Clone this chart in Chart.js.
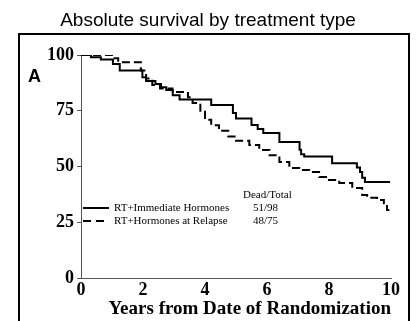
<!DOCTYPE html>
<html>
<head>
<meta charset="utf-8">
<script src="https://cdn.jsdelivr.net/npm/chart.js"></script>
<style>
  html, body { margin: 0; padding: 0; background: #fff; }
  #wrap { width: 416px; height: 321px; position: relative; }
</style>
</head>
<body>
<div id="wrap"><canvas id="survChart"></canvas></div>
<script>
// Kaplan-Meier steps: years from randomization and % alive after each step
const immediateYears = [0, 0.32, 0.64, 1.03, 1.25, 1.98, 2.1, 2.4, 2.58, 2.75, 2.96, 3.18, 4.2, 4.9, 5.0, 5.5, 5.7, 5.88, 6.4, 7.05, 7.1, 7.2, 8.1, 8.9, 9.0, 9.07, 9.16, 9.97];
const immediateSurv  = [100, 99, 98, 96, 93, 90, 88.3, 87, 85.5, 84.3, 82, 80, 77.6, 74, 71.5, 68.6, 66.8, 65, 61, 57.5, 55.5, 54.5, 51.5, 49.5, 47.5, 45, 43, 43];

const relapseYears = [0, 1.03, 1.2, 1.93, 2.1, 2.3, 2.55, 2.95, 3.45, 3.6, 3.85, 4.0, 4.2, 4.45, 4.75, 5.0, 5.43, 5.75, 6.08, 6.4, 6.72, 7.04, 7.36, 7.68, 8.0, 8.33, 8.75, 9.07, 9.23, 9.55, 9.77, 9.87, 9.95];
const relapseSurv  = [100, 98.5, 96.8, 93, 89.5, 86.5, 85, 83.4, 81, 78.5, 74.5, 71, 68.5, 66, 63.5, 61.5, 59.6, 57.4, 55, 52, 49.3, 48.4, 47.5, 45.3, 44, 42.6, 40.4, 37.2, 36, 35, 33.5, 30.5, 30.5];

const seriesNames = ['RT+Immediate Hormones', 'RT+Hormones at Relapse'];
const deadTotal = ['51/98', '48/75'];

const serif = '"Liberation Serif", "Times New Roman", serif';
const sans = '"Liberation Sans", Arial, sans-serif';

function toPoints(xs, ys) {
  return xs.map((x, i) => ({x: x, y: ys[i]}));
}

// frame, heading, panel letter and the in-plot legend
const decorations = {
  id: 'decorations',
  afterDraw(chart) {
    const ctx = chart.ctx;
    const area = chart.chartArea;
    ctx.save();
    ctx.fillStyle = '#000';
    ctx.strokeStyle = '#000';

    ctx.font = '19px ' + sans;
    ctx.textAlign = 'center';
    ctx.textBaseline = 'middle';
    ctx.fillText('Absolute survival by treatment type', 208, 21);

    ctx.lineWidth = 2;
    ctx.beginPath();
    ctx.moveTo(19, 321);
    ctx.lineTo(19, 34);
    ctx.lineTo(409, 34);
    ctx.lineTo(409, 321);
    ctx.stroke();

    ctx.font = 'bold 18px ' + sans;
    ctx.textAlign = 'left';
    ctx.fillText('A', 28, 77);

    // legend rows
    const lx = area.left + 2;
    const rows = [area.top + 153, area.top + 166];
    ctx.font = '11px ' + serif;
    ctx.fillText('Dead/Total', lx + 160, area.top + 140);
    rows.forEach((y, i) => {
      ctx.lineWidth = 2;
      ctx.setLineDash(i === 0 ? [] : [8, 5]);
      ctx.beginPath();
      ctx.moveTo(lx, y);
      ctx.lineTo(lx + 26, y);
      ctx.stroke();
      ctx.setLineDash([]);
      ctx.fillText(seriesNames[i], lx + 31, y);
      ctx.fillText(deadTotal[i], lx + 170, y);
    });
    ctx.restore();
  }
};

new Chart(document.getElementById('survChart'), {
  type: 'line',
  data: {
    datasets: [{
      label: seriesNames[0],
      data: toPoints(immediateYears, immediateSurv),
      borderColor: '#000',
      borderWidth: 2,
      stepped: 'before',
      pointRadius: 0,
      fill: false
    }, {
      label: seriesNames[1],
      data: toPoints(relapseYears, relapseSurv),
      borderColor: '#000',
      borderWidth: 2,
      borderDash: [8, 4],
      stepped: 'before',
      pointRadius: 0,
      fill: false
    }]
  },
  options: {
    responsive: true,
    maintainAspectRatio: false,
    animation: false,
    layout: { padding: { left: 0, right: 25, top: 55, bottom: 0 } },
    plugins: {
      legend: { display: false },
      title: { display: false },
      tooltip: { enabled: false }
    },
    scales: {
      x: {
        type: 'linear',
        min: 0,
        max: 10,
        afterFit: s => { s.height = 43; },
        border: { display: true, color: '#555', width: 1 },
        grid: { display: false, drawTicks: false },
        ticks: {
          stepSize: 2,
          padding: 2,
          color: '#000',
          font: { family: serif, size: 18, weight: 'bold' }
        },
        title: {
          display: true,
          text: 'Years from Date of Randomization',
          align: 'end',
          color: '#000',
          padding: { top: 0, bottom: 1 },
          font: { family: serif, size: 19, weight: 'bold' }
        }
      },
      y: {
        min: 0,
        max: 100,
        afterFit: s => { s.width = 81; },
        border: { display: true, color: '#555', width: 1 },
        grid: { drawOnChartArea: false, drawTicks: true, tickLength: 4, color: '#555' },
        ticks: {
          stepSize: 25,
          padding: 3,
          color: '#000',
          font: { family: serif, size: 18, weight: 'bold' }
        }
      }
    }
  },
  plugins: [decorations]
});
</script>
</body>
</html>
